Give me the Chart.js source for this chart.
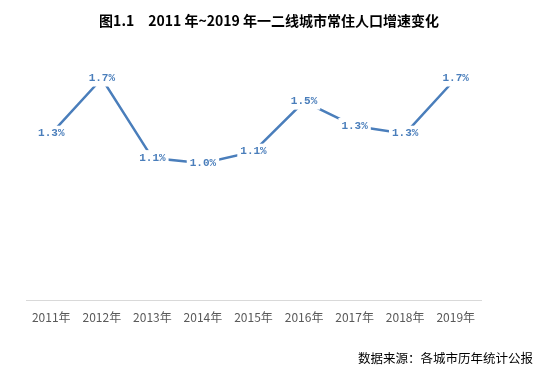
<!DOCTYPE html>
<html>
<head>
<meta charset="utf-8">
<script src="https://cdn.jsdelivr.net/npm/chart.js@4/dist/chart.umd.min.js"></script>
<style>
  html, body { margin: 0; padding: 0; background: #fff; }
  #wrap { width: 546px; height: 373px; position: relative; }
</style>
</head>
<body>
<div id="wrap"><canvas id="c"></canvas></div>
<script>
// 年份
const years = ['2011年', '2012年', '2013年', '2014年', '2015年', '2016年', '2017年', '2018年', '2019年'];
// 一二线城市常住人口增速（%）
const growth = [1.27, 1.70, 1.08, 1.04, 1.13, 1.52, 1.33, 1.27, 1.70];
const titleText = '图1.1　2011 年~2019 年一二线城市常住人口增速变化';
const sourceText = '数据来源：各城市历年统计公报';

// 数据标签：白底盖住折线，写在点上
const pointLabels = {
  id: 'pointLabels',
  afterDatasetsDraw(chart) {
    const ctx = chart.ctx;
    const meta = chart.getDatasetMeta(0);
    ctx.save();
    ctx.font = 'bold 11px "Liberation Mono", monospace';
    ctx.textAlign = 'center';
    ctx.textBaseline = 'middle';
    meta.data.forEach((pt, i) => {
      const txt = growth[i].toFixed(1) + '%';
      const w = ctx.measureText(txt).width;
      ctx.fillStyle = '#fff';
      ctx.fillRect(pt.x - w / 2 - 3, pt.y - 8, w + 6, 16);
      ctx.fillStyle = '#4a7ebb';
      ctx.fillText(txt, pt.x, pt.y);
    });
    ctx.restore();
  }
};

const extraText = {
  id: 'extraText',
  afterDraw(chart) {
    const ctx = chart.ctx;
    ctx.save();
    ctx.fillStyle = '#000';
    ctx.textBaseline = 'middle';
    ctx.font = 'bold 14px "Noto Sans CJK SC", sans-serif';
    ctx.textAlign = 'center';
    ctx.fillText(titleText, 269, 21);
    ctx.font = '12.5px "Noto Sans CJK SC", sans-serif';
    ctx.textAlign = 'right';
    ctx.fillText(sourceText, 533, 358);
    ctx.restore();
  }
};

new Chart(document.getElementById('c'), {
  type: 'line',
  data: {
    labels: years,
    datasets: [{
      data: growth,
      borderColor: '#4a7ebb',
      borderWidth: 2.5,
      pointRadius: 0,
      tension: 0,
      fill: false
    }]
  },
  options: {
    responsive: true,
    maintainAspectRatio: false,
    animation: false,
    layout: { padding: { left: 26, right: 65, top: 40, bottom: 38 } },
    plugins: {
      legend: { display: false },
      title: { display: false },
      tooltip: { enabled: false }
    },
    scales: {
      x: {
        offset: true,
        grid: { display: false, drawTicks: false },
        border: { display: true, color: '#d9d9d9', width: 1 },
        ticks: {
          color: '#595959',
          padding: 10,
          maxRotation: 0,
          font: { size: 12, family: '"Noto Sans CJK SC", sans-serif' }
        }
      },
      y: {
        display: false,
        min: -0.03,
        max: 2.0
      }
    }
  },
  plugins: [pointLabels, extraText]
});
</script>
</body>
</html>
